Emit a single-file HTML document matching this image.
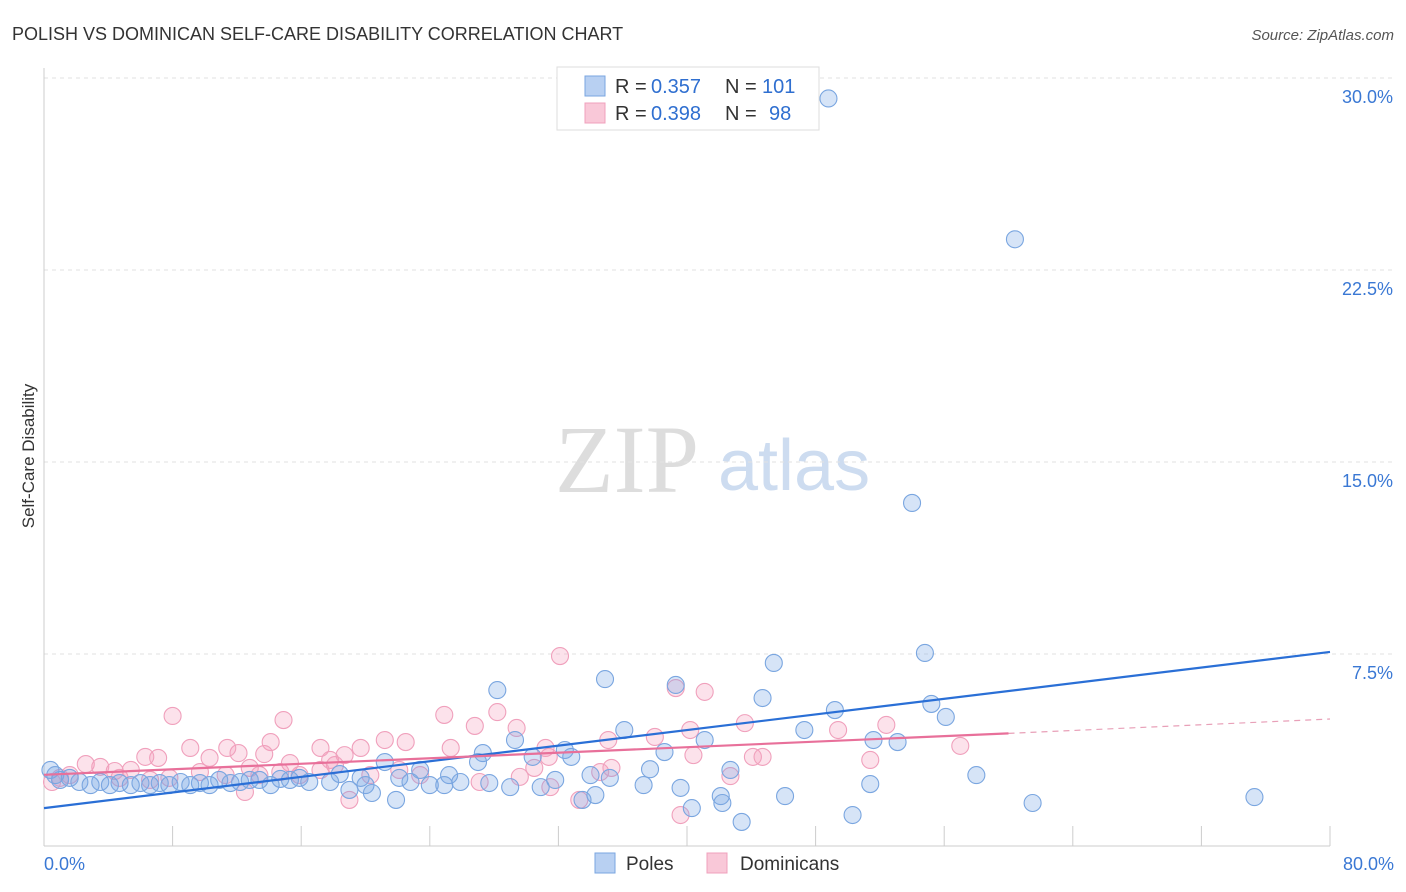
<!DOCTYPE html>
<html><head><meta charset="utf-8"><style>
body{margin:0;background:#fff;font-family:"Liberation Sans",sans-serif}
#wrap{position:relative;width:1406px;height:892px;overflow:hidden}
</style></head><body>
<div id="wrap">
<svg id="svg" width="1406" height="892" xmlns="http://www.w3.org/2000/svg">
<text x="12" y="40" font-size="18" fill="#333">POLISH VS DOMINICAN SELF-CARE DISABILITY CORRELATION CHART</text>
<text x="1394" y="40" font-size="15" fill="#555" font-style="italic" text-anchor="end">Source: ZipAtlas.com</text>
<text x="555" y="492" font-size="96" fill="#ddd" font-family="Liberation Serif, serif">ZIP</text>
<text x="718" y="490" font-size="72" fill="#cddcf0">atlas</text>
<text x="34" y="456" font-size="17" fill="#333" text-anchor="middle" transform="rotate(-90 34 456)">Self-Care Disability</text>
<g id="grid"></g><g id="marks"></g>
<rect x="557" y="67" width="262" height="63" fill="#fff" stroke="#ddd"/>
<rect x="585" y="76" width="20" height="20" fill="#b8d0f2" stroke="#7aa6e0"/>
<rect x="585" y="103" width="20" height="20" fill="#f9c8d8" stroke="#f0a0bc"/>
<g font-size="20" fill="#333">
<text x="615" y="93">R =</text><text x="651" y="93" fill="#2f6fd0">0.357</text><text x="725" y="93">N =</text><text x="762" y="93" fill="#2f6fd0">101</text></g>
<g font-size="20" fill="#333">
<text x="615" y="120">R =</text><text x="651" y="120" fill="#2f6fd0">0.398</text><text x="725" y="120">N =</text><text x="769" y="120" fill="#2f6fd0">98</text></g>
<rect x="595" y="853" width="20" height="20" fill="#b8d0f2" stroke="#7aa6e0"/>
<text x="626" y="870" font-size="19" fill="#333">Poles</text>
<rect x="707" y="853" width="20" height="20" fill="#f9c8d8" stroke="#f0a0bc"/>
<text x="740" y="870" font-size="19" fill="#333">Dominicans</text>
</svg></div>
<script>
const yTicks=[7.5,15,22.5,30];
const yTickLabels=["7.5%","15.0%","22.5%","30.0%"];
const xTickLabels=["0.0%","80.0%"];
const polesX=[48.8,60.4,54.0,54.8,45.4,34.9,39.3,28.2,44.7,55.2,49.2,56.1,36.1,47.3,29.3,41.1,51.6,53.1,32.4,27.3,38.6,32.8,30.4,27.0,21.2,37.7,42.7,58.0,34.0,31.8,35.2,25.2,23.4,19.7,18.4,15.9,14.7,13.4,12.2,10.9,9.7,8.5,7.2,6.0,4.7,3.5,2.2,1.0,0.4,0.7,1.6,2.9,4.1,5.4,6.6,7.8,9.1,10.3,11.6,12.8,14.1,15.3,16.5,17.8,20.0,22.1,22.8,24.0,24.9,25.9,27.7,29.0,30.9,37.3,39.6,51.4,42.1,34.3,46.1,75.3,61.5,33.5,21.9,19.0,20.4,42.2,40.3,50.3,43.4];
const polesY=[29.2,23.7,13.4,7.54,7.15,6.52,6.29,6.09,5.78,5.55,5.31,5.04,4.53,4.53,4.14,4.14,4.14,4.06,3.75,3.63,3.67,3.48,3.48,3.28,3.28,3.0,2.97,2.77,2.77,2.58,2.66,2.77,2.97,2.66,2.81,2.66,2.62,2.58,2.5,2.58,2.46,2.5,2.46,2.46,2.46,2.5,2.5,2.58,2.97,2.77,2.66,2.38,2.38,2.38,2.38,2.38,2.38,2.38,2.46,2.58,2.38,2.58,2.5,2.5,2.38,2.66,2.5,2.38,2.38,2.5,2.46,2.3,2.3,2.38,2.27,2.42,1.95,1.99,1.95,1.91,1.68,1.8,1.8,2.19,2.07,1.68,1.48,1.21,0.94];
const domX=[32.1,39.3,41.1,8.0,14.9,24.9,28.2,26.8,29.4,43.6,52.4,49.4,40.2,35.1,38.0,21.2,22.5,14.1,17.2,12.1,13.7,9.1,11.4,10.3,7.1,6.3,2.6,3.5,19.7,18.7,25.3,31.2,31.4,40.4,44.1,44.7,51.4,57.0,17.8,15.3,12.8,5.4,4.4,1.6,1.0,0.5,4.7,6.6,7.8,9.7,11.3,13.4,14.7,15.9,17.2,18.1,20.3,22.1,23.4,27.1,29.6,30.5,34.6,35.3,42.7,19.0,12.5,31.5,33.3,39.6];
const domY=[7.42,6.17,6.02,5.08,4.92,5.12,5.23,4.69,4.61,4.8,4.73,4.53,4.53,4.14,4.26,4.14,4.06,4.06,3.83,3.63,3.59,3.83,3.83,3.44,3.44,3.48,3.2,3.09,3.83,3.55,3.83,3.83,3.48,3.55,3.48,3.48,3.36,3.91,3.36,3.24,3.05,2.97,2.93,2.77,2.66,2.5,2.66,2.58,2.66,2.89,2.77,2.77,2.89,2.77,2.97,3.16,2.77,2.97,2.77,2.5,2.7,3.05,2.89,3.05,2.73,1.8,2.11,2.3,1.8,1.21];
const polesTrend=[[0,1.48],[80,7.58]];
const domTrend=[[0,2.78],[60,4.4],[80,4.96]];
const NS="http://www.w3.org/2000/svg";
const X=v=>44+v/80*1286, Y=v=>846-v/7.5*192;
function mk(t,a,p){const e=document.createElementNS(NS,t);for(const k in a)e.setAttribute(k,a[k]);p.appendChild(e);return e;}
const g=document.getElementById('grid'),m=document.getElementById('marks');
yTicks.forEach((t,i)=>{let l=mk('line',{x1:44,x2:1392,y1:Y(t),y2:Y(t),stroke:'#e2e2e2','stroke-dasharray':'4,4'},g);


let tx=mk('text',{x:1393,y:Y(t)+25,'font-size':18,fill:'#3a78d4','text-anchor':'end'},g);tx.textContent=yTickLabels[i];

});
let ax=mk('line',{x1:44,x2:44,y1:68,y2:846,stroke:'#ccc'},g);


let bx=mk('line',{x1:44,x2:1330,y1:846,y2:846,stroke:'#ccc'},g);


for(let i=0;i<=10;i++){let t=mk('line',{x1:X(i*8),x2:X(i*8),y1:826,y2:846,stroke:'#ccc'},g);

}
[[0,'start',44],[80,'end',1394]].forEach((d,i)=>{let t=mk('text',{x:d[2],y:870,'font-size':18,fill:'#3a78d4','text-anchor':d[1]},g);t.textContent=xTickLabels[i];

});
function pts(xs,ys,fill,stroke,name){xs.forEach((x,i)=>{let c=mk('circle',{cx:X(x),cy:Y(ys[i]),r:8.5,fill:fill,stroke:stroke,'stroke-width':1.1},m);

});}
pts(domX,domY,'rgba(244,160,190,0.3)','#f0a0bc','dominicans-point');
pts(polesX,polesY,'rgba(120,165,230,0.3)','#7aa6e0','poles-point');
let pl=mk('line',{x1:X(polesTrend[0][0]),y1:Y(polesTrend[0][1]),x2:X(polesTrend[1][0]),y2:Y(polesTrend[1][1]),stroke:'#2a6fd6','stroke-width':2.2},m);


let dl=mk('line',{x1:X(domTrend[0][0]),y1:Y(domTrend[0][1]),x2:X(domTrend[1][0]),y2:Y(domTrend[1][1]),stroke:'#e8709a','stroke-width':2.2},m);


let dd=mk('line',{x1:X(domTrend[1][0]),y1:Y(domTrend[1][1]),x2:X(domTrend[2][0]),y2:Y(domTrend[2][1]),stroke:'#e8a0b8','stroke-width':1.2,'stroke-dasharray':'6,5'},m);


</script>
</body></html>
